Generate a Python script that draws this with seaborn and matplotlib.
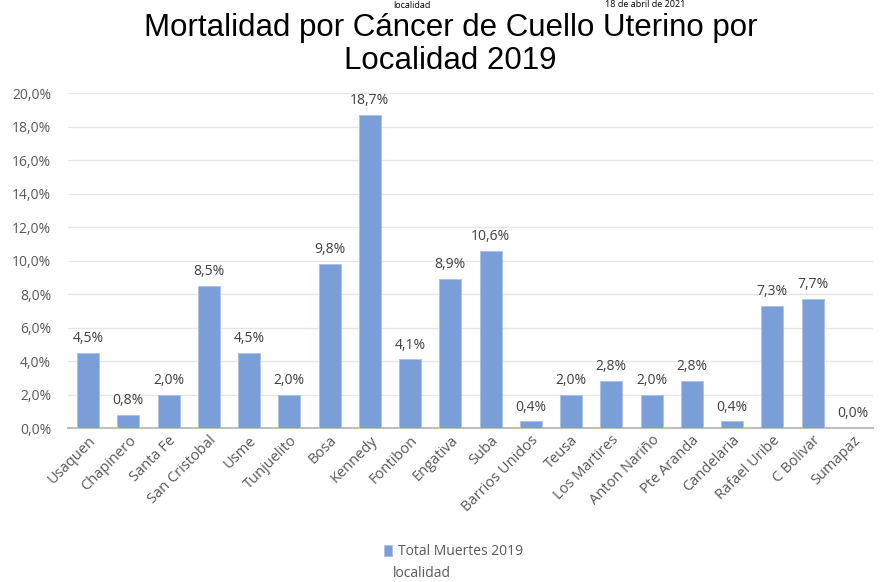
import matplotlib
matplotlib.use("Agg")
import matplotlib.pyplot as plt
import matplotlib.ticker as mticker
import pandas as pd
import seaborn as sns

localidades = ["Usaquen", "Chapinero", "Santa Fe", "San Cristobal", "Usme",
               "Tunjuelito", "Bosa", "Kennedy", "Fontibon", "Engativa", "Suba",
               "Barrios Unidos", "Teusa", "Los Martires", "Anton Nariño",
               "Pte Aranda", "Candelaria", "Rafael Uribe", "C Bolivar", "Sumapaz"]
muertes_pct = [4.5, 0.8, 2.0, 8.5, 4.5, 2.0, 9.8, 18.7, 4.1, 8.9, 10.6,
               0.4, 2.0, 2.8, 2.0, 2.8, 0.4, 7.3, 7.7, 0.0]
serie = "Total Muertes 2019"

BAR = "#7A9ED8"
GREY = "#595959"

df = pd.DataFrame({"localidad": localidades, "pct": muertes_pct})

sns.set_theme(style="white")
plt.rcParams["font.family"] = ["Open Sans", "DejaVu Sans"]

fig = plt.figure(figsize=(8.85, 5.82), dpi=100)
ax = fig.add_axes([0.0768, 0.2646, 0.9096, 0.5754])

sns.barplot(data=df, x="localidad", y="pct", color=BAR, width=0.55,
            saturation=1, edgecolor="#A9C0E6", linewidth=0.6, ax=ax,
            label=serie, zorder=3)

for i, v in enumerate(muertes_pct):
    ax.text(i, v + 0.4, f"{v:.1f}%".replace(".", ","), ha="center",
            va="bottom", fontsize=10, color="#404040")

ax.set_ylim(0, 20)
ax.set_xlim(-0.5, len(localidades) - 0.5)
ax.yaxis.set_major_locator(mticker.MultipleLocator(2))
ax.yaxis.set_major_formatter(
    mticker.FuncFormatter(lambda y, _: f"{y:.1f}%".replace(".", ",")))
ax.grid(axis="y", color="#E6E6E6", linewidth=0.9, zorder=0)
for s in ["top", "right", "left"]:
    ax.spines[s].set_visible(False)
ax.spines["bottom"].set_color("#BFBFBF")
ax.spines["bottom"].set_linewidth(1.5)
ax.tick_params(axis="both", length=0, colors=GREY, labelsize=10)
ax.tick_params(axis="y", pad=12)
ax.tick_params(axis="x", labelsize=10.5)
ax.set_xlabel("")
ax.set_ylabel("")
plt.setp(ax.get_xticklabels(), rotation=45, ha="right",
         rotation_mode="anchor", color=GREY)

fig.text(0.509, 0.938, "Mortalidad por Cáncer de Cuello Uterino por",
         ha="center", va="baseline", fontsize=22.5, color="black",
         family="Liberation Sans")
fig.text(0.509, 0.882, "Localidad 2019", ha="center", va="baseline",
         fontsize=22.5, color="black", family="Liberation Sans")
fig.text(0.466, 0.998, "localidad", ha="center", va="top", fontsize=6.5,
         color="black")
fig.text(0.729, 1.0, "18 de abril de 2021", ha="center", va="top",
         fontsize=6.5, color="black")

leg = ax.legend(loc="center", frameon=False,
                fontsize=10, handlelength=0.6, handleheight=0.9,
                handletextpad=0.4)
for t in leg.get_texts():
    t.set_color(GREY)
leg.set_bbox_to_anchor((0.512, 0.052), transform=fig.transFigure)
fig.text(0.477, 0.015, "localidad", ha="center", va="center", fontsize=10,
         color=GREY)

fig.savefig("out.png", dpi=100)
